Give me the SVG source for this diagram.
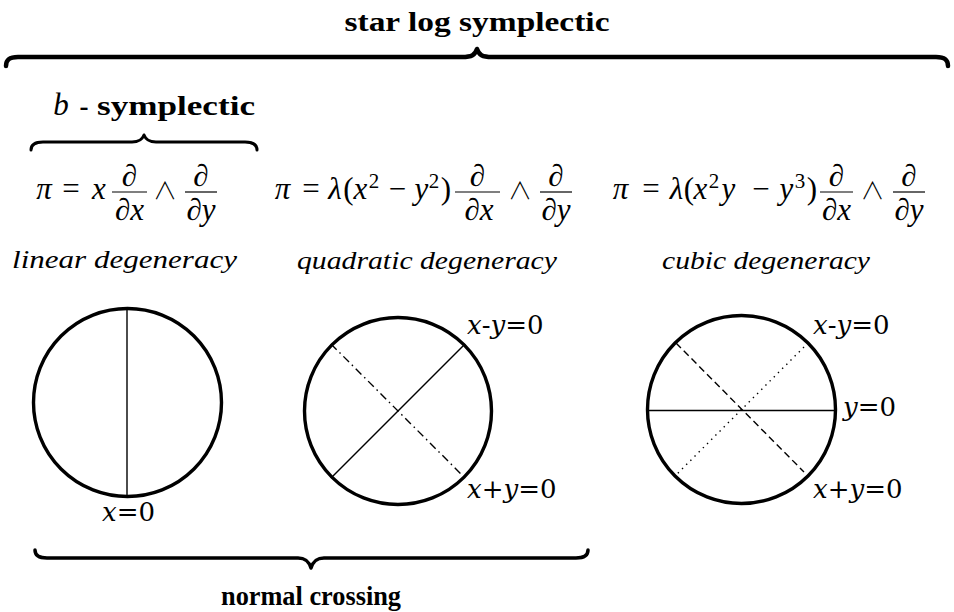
<svg xmlns="http://www.w3.org/2000/svg" width="954" height="612" viewBox="0 0 954 612">
<style>
.bg{fill:#fff}
.brace{fill:none;stroke:#000;stroke-linecap:round;stroke-linejoin:round}
.ttl{font-family:"Liberation Serif","DejaVu Serif",serif;font-weight:bold;font-size:27px;text-anchor:middle;fill:#000}
.m{font-family:"Liberation Serif","DejaVu Serif",serif;font-size:31px;text-anchor:middle;fill:#000}
.w{font-family:"Noto Sans CJK JP","DejaVu Serif",serif;font-weight:300;font-size:24px;text-anchor:middle;fill:#000}
.i{font-style:italic}
.sup{font-size:21px}
.deg{font-family:"Liberation Serif","DejaVu Serif",serif;font-style:italic;font-size:26px;text-anchor:middle;fill:#000}
.bar{stroke:#000;stroke-width:1.2}
.circ{fill:none;stroke:#000;stroke-width:3.4}
.ln{stroke:#000;stroke-width:1.4;fill:none}
.lab{font-family:"DejaVu Serif",serif;font-size:26px;fill:#000}
</style>
<rect class="bg" width="954" height="612"/>

<g id="star-log-symplectic">
  <path class="brace" stroke-width="4.5" d="M 6,66 C 6,60 9,57 18,57 L 462,57 C 472,57 475,55 477,49 C 479,55 482,57 492,57 L 936,57 C 945,57 948,60 948,66"/>
  <text class="ttl" x="477" y="31" textLength="265" lengthAdjust="spacingAndGlyphs">star log symplectic</text>
</g>

<g id="b-symplectic">
  <path class="brace" stroke-width="3" d="M 31,150 C 31,145 35,142 43,142 L 132,142 C 139,142 142,140 144,135 C 146,140 149,142 156,142 L 245,142 C 253,142 257,145 257,150"/>
  <text class="m i" x="61" y="115">b</text>
  <text class="ttl" x="84" y="115">-</text>
  <text class="ttl" x="176" y="115" textLength="158" lengthAdjust="spacingAndGlyphs">symplectic</text>
</g>

<g id="formula-linear">
  <text class="m i" x="44" y="199">π</text>
  <text class="m" x="71" y="199">=</text>
  <text class="m i" x="99" y="199">x</text>
  <line class="bar" x1="112" y1="192" x2="147" y2="192"/>
  <text class="m i" x="129.5" y="185.5">∂</text>
  <text class="m i" x="129.5" y="219.5">∂x</text>
  <text class="w" x="165" y="199">∧</text>
  <line class="bar" x1="185" y1="192" x2="217" y2="192"/>
  <text class="m i" x="201" y="185.5">∂</text>
  <text class="m i" x="201" y="219.5">∂y</text>
  <text class="deg" x="124.5" y="268" textLength="225" lengthAdjust="spacingAndGlyphs">linear degeneracy</text>
</g>

<g id="formula-quadratic">
  <text class="m i" x="282.5" y="199">π</text>
  <text class="m" x="311" y="199">=</text>
  <text class="m i" x="335" y="199">λ</text>
  <text class="m" x="348.5" y="199">(</text>
  <text class="m i" x="360.5" y="199">x</text>
  <text class="m sup" x="374" y="188">2</text>
  <text class="m" x="397.5" y="199">−</text>
  <text class="m i" x="421.5" y="199">y</text>
  <text class="m sup" x="434" y="188">2</text>
  <text class="m" x="446" y="199">)</text>
  <line class="bar" x1="455" y1="192" x2="500" y2="192"/>
  <text class="m i" x="477.5" y="185.5">∂</text>
  <text class="m i" x="479" y="219.5">∂x</text>
  <text class="w" x="520" y="199">∧</text>
  <line class="bar" x1="540" y1="192" x2="572" y2="192"/>
  <text class="m i" x="556" y="185.5">∂</text>
  <text class="m i" x="556" y="219.5">∂y</text>
  <text class="deg" x="427" y="269" textLength="260" lengthAdjust="spacingAndGlyphs">quadratic degeneracy</text>
</g>

<g id="formula-cubic">
  <text class="m i" x="620.5" y="199">π</text>
  <text class="m" x="651" y="199">=</text>
  <text class="m i" x="676.5" y="199">λ</text>
  <text class="m" x="689" y="199">(</text>
  <text class="m i" x="700.5" y="199">x</text>
  <text class="m sup" x="714" y="188">2</text>
  <text class="m i" x="728.5" y="199">y</text>
  <text class="m" x="761" y="199">−</text>
  <text class="m i" x="786.5" y="199">y</text>
  <text class="m sup" x="800" y="188">3</text>
  <text class="m" x="812" y="199">)</text>
  <line class="bar" x1="820" y1="192" x2="853" y2="192"/>
  <text class="m i" x="836.5" y="185.5">∂</text>
  <text class="m i" x="836.5" y="219.5">∂x</text>
  <text class="w" x="872.5" y="199">∧</text>
  <line class="bar" x1="893" y1="192" x2="925" y2="192"/>
  <text class="m i" x="909" y="185.5">∂</text>
  <text class="m i" x="909" y="219.5">∂y</text>
  <text class="deg" x="766" y="269" textLength="208" lengthAdjust="spacingAndGlyphs">cubic degeneracy</text>
</g>

<g id="circle-linear">
  <circle class="circ" cx="127.5" cy="402.5" r="94"/>
  <line class="ln" x1="127" y1="309" x2="127" y2="496"/>
  <text class="lab" x="102" y="521"><tspan font-style="italic">x</tspan>=0</text>
</g>

<g id="circle-quadratic">
  <circle class="circ" cx="398" cy="411" r="93.5"/>
  <line class="ln" x1="331" y1="478" x2="465" y2="344"/>
  <line class="ln" x1="331" y1="344" x2="465" y2="478" stroke-dasharray="8 4 1.5 4"/>
  <text class="lab" x="467" y="334"><tspan font-style="italic">x</tspan>-<tspan font-style="italic">y</tspan>=0</text>
  <text class="lab" x="467" y="498"><tspan font-style="italic">x</tspan>+<tspan font-style="italic">y</tspan>=0</text>
</g>

<g id="circle-cubic">
  <circle class="circ" cx="741.5" cy="409.5" r="94"/>
  <line class="ln" x1="647" y1="410.5" x2="836" y2="410.5"/>
  <line class="ln" x1="676" y1="343" x2="804" y2="472" stroke-dasharray="7 4"/>
  <line class="ln" x1="804" y1="347" x2="677" y2="474" stroke-dasharray="1.4 4.5"/>
  <text class="lab" x="813" y="334"><tspan font-style="italic">x</tspan>-<tspan font-style="italic">y</tspan>=0</text>
  <text class="lab" x="843" y="416"><tspan font-style="italic">y</tspan>=0</text>
  <text class="lab" x="813" y="498"><tspan font-style="italic">x</tspan>+<tspan font-style="italic">y</tspan>=0</text>
</g>

<g id="normal-crossing">
  <path class="brace" stroke-width="3.5" d="M 35,550 C 35,555 39,558 47,558 L 298,558 C 306,558 309,562 311,568 C 313,562 316,558 324,558 L 576,558 C 584,558 588,555 588,550"/>
  <text class="ttl" x="311" y="605" textLength="180" lengthAdjust="spacingAndGlyphs">normal crossing</text>
</g>
</svg>
